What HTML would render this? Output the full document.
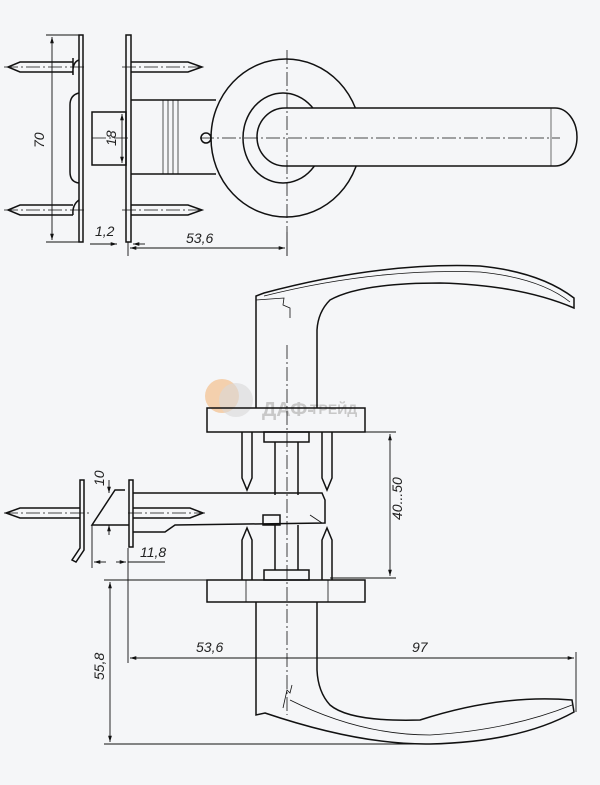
<!DOCTYPE html>
<html><head><meta charset="utf-8"><style>
html,body{margin:0;padding:0;background:#f5f6f8;}
svg{display:block;}
text{font-family:"Liberation Sans",sans-serif;font-style:italic;font-size:14px;fill:#222;}
</style></head><body>
<svg width="600" height="785" viewBox="0 0 600 785" xmlns="http://www.w3.org/2000/svg">
<rect width="600" height="785" fill="#f5f6f8"/>
<defs>
<marker id="a" viewBox="0 0 10 10" refX="10" refY="5" markerWidth="7" markerHeight="7" orient="auto-start-reverse"><path d="M0,2 L10,5 L0,8z" fill="#111"/></marker>
</defs>
<g fill="none" stroke="#111" stroke-width="1.5">
<rect x="79" y="35" width="4" height="207"/>
<path d="M79 60 Q72 62 73 75 L73 58"/>
<path d="M79 200 Q72 205 73 215"/>
<path d="M79 93 Q70 95 70 105 L70 172 Q70 182 79 183"/>
<path d="M73 62 L20 62 L8 67 L20 72 L73 72"/>
<path d="M73 205 L20 205 L8 210 L20 215 L73 215"/>
<rect x="126" y="35" width="5" height="207"/>
<path d="M131 62 L188 62 L202 67 L188 72 L131 72"/>
<path d="M131 205 L188 205 L202 210 L188 215 L131 215"/>
<rect x="92" y="112" width="34" height="53"/>
<path d="M131 100 L216 100 M131 174 L216 174"/>
<path d="M163 100 L163 174 M168 100 L168 174 M173 100 L173 174 M178 100 L178 174" stroke-width="0.7"/>
<ellipse cx="286" cy="138" rx="75" ry="79"/>
<ellipse cx="283" cy="138" rx="40" ry="45"/>
<circle cx="206" cy="138" r="5"/>
<path d="M285 108 L555 108 A22 29 0 0 1 555 166 L285 166 A28 29 0 0 1 285 108" fill="#f5f6f8"/>
<path d="M551 108 L551 166" stroke-width="0.6"/>
</g>
<g fill="none" stroke="#111" stroke-width="0.8" stroke-dasharray="14 3 2 3">
<path d="M200 138 L560 138"/>
<path d="M287 50 L287 232"/>
<path d="M4 67 L85 67 M4 210 L85 210 M122 67 L205 67 M122 210 L205 210"/>
<path d="M92 138 L130 138"/>
</g>
<g fill="none" stroke="#111" stroke-width="0.9">
<path d="M46 35 L80 35 M46 242 L80 242"/>
<path d="M52 37 L52 240" marker-start="url(#a)" marker-end="url(#a)"/>
<path d="M122 114 L122 163" marker-start="url(#a)" marker-end="url(#a)"/>
<path d="M90 244 L117 244" marker-end="url(#a)"/><path d="M145 244 L133 244" marker-end="url(#a)"/>
<path d="M128 242 L128 256 M287 232 L287 256"/>
<path d="M130 248 L285 248" marker-start="url(#a)" marker-end="url(#a)"/>
</g>
<text transform="translate(44,148) rotate(-90)">70</text>
<text transform="translate(116,146) rotate(-90)">18</text>
<text x="95" y="236">1,2</text>
<text x="186" y="243">53,6</text>

<circle cx="222" cy="396" r="17" fill="#f4c79a" opacity="0.8"/>
<circle cx="236" cy="400" r="17" fill="#d8d8d8" opacity="0.6"/>
<text x="262" y="416" style="font-style:normal;font-weight:bold;font-size:20px;fill:#c8c8c8">ДАФ-</text>
<text x="310" y="414" style="font-style:normal;font-weight:bold;font-size:14px;fill:#c8c8c8">ТРЕЙД</text>

<g fill="none" stroke="#111" stroke-width="1.5">
<path d="M256 408 L256 296 L264 293 Q380 262 480 266 Q540 272 574 298 L574 308 Q520 285 440 283 Q360 283 330 300 Q318 312 317 330 L317 408"/>
<path d="M264 296 Q375 268 480 272 Q540 278 570 302" stroke-width="0.8"/>
<path d="M256 300 L284 298 L283 305 L290 308 L290 318" stroke-width="0.8"/>
<rect x="207" y="408" width="158" height="24"/>
<rect x="264" y="432" width="45" height="10"/>
<path d="M275 442 L275 495 M298 442 L298 495"/>
<path d="M242 432 L242 478 L247 490 L252 478 L252 432"/>
<path d="M322 432 L322 478 L327 490 L332 478 L332 432"/>
<path d="M80 480 L80 548 L72 560 L76 562 L84 550 L84 480 Z"/>
<path d="M80 508 L20 508 L6 513 L20 518 L80 518"/>
<rect x="129" y="480" width="4" height="67"/>
<path d="M133 508 L190 508 L203 513 L190 518 L133 518"/>
<path d="M133 493 L322 493 L325 500 L325 523 L175 525 L165 532 L133 532"/>
<path d="M125 490 L115 490 L92 525 L129 525"/>
<rect x="263" y="515" width="17" height="10"/>
<path d="M310 515 L322 523" stroke-width="0.8"/>
<path d="M275 525 L275 570 M298 525 L298 570"/>
<rect x="264" y="570" width="45" height="10"/>
<path d="M242 580 L242 540 L247 528 L252 540 L252 580"/>
<path d="M322 580 L322 540 L327 528 L332 540 L332 580"/>
<rect x="207" y="580" width="158" height="22"/>
<path d="M246 580 L246 602 M328 580 L328 602" stroke-width="0.8"/>
<path d="M256 602 L256 715 L265 713 Q360 745 430 744 Q520 742 574 712 L572 700 Q500 694 420 720 Q350 722 330 705 Q318 692 317 670 L317 602"/>
<path d="M283 708 L287 690 L290 693 L292 685" stroke-width="0.8"/>
<path d="M290 700 Q360 735 430 735 Q510 730 572 705" stroke-width="0.8"/>
</g>
<g fill="none" stroke="#111" stroke-width="0.8" stroke-dasharray="14 3 2 3">
<path d="M287 345 L287 715"/>
<path d="M4 513 L90 513 M128 513 L205 513"/>
</g>
<g fill="none" stroke="#111" stroke-width="0.9">
<path d="M365 432 L396 432 M330 578 L396 578"/>
<path d="M390 434 L390 576" marker-start="url(#a)" marker-end="url(#a)"/>
<path d="M109 480 L109 493" marker-end="url(#a)"/><path d="M109 535 L109 525" marker-end="url(#a)"/>
<path d="M92 525 L92 568 M128 548 L128 663"/>
<path d="M94 562 L106 562" marker-start="url(#a)"/><path d="M116 562 L126 562" marker-end="url(#a)"/>
<path d="M128 562 L165 562"/>
<path d="M104 580 L207 580 M104 744 L430 744"/>
<path d="M110 582 L110 742" marker-start="url(#a)" marker-end="url(#a)"/>
<path d="M130 658 L574 658" marker-start="url(#a)" marker-end="url(#a)"/>
<path d="M576 652 L576 712"/>
</g>
<text transform="translate(402,520) rotate(-90)">40...50</text>
<text transform="translate(104,486) rotate(-90)">10</text>
<text x="140" y="557">11,8</text>
<text transform="translate(104,680) rotate(-90)">55,8</text>
<text x="196" y="652">53,6</text>
<text x="412" y="652">97</text>
</svg>
</body></html>
